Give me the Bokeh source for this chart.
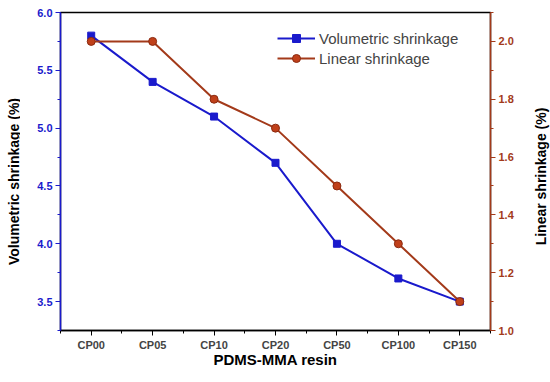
from bokeh.plotting import figure
from bokeh.layouts import row
from bokeh.models import Range1d, LinearAxis, FixedTicker, Legend, LegendItem, Label
from bokeh.embed import file_html
from bokeh.resources import INLINE

categories = ["CP00", "CP05", "CP10", "CP20", "CP50", "CP100", "CP150"]
volumetric = [5.8, 5.4, 5.1, 4.7, 4.0, 3.7, 3.5]
linear = [2.0, 2.0, 1.8, 1.7, 1.5, 1.3, 1.1]
xs = list(range(len(categories)))

FONT = "Liberation Sans"
BLUE = "#1a1acc"
BROWN = "#a33a1a"
PI = 3.141592653589793
H = 382

p = figure(width=505, height=H, output_backend="svg", toolbar_location=None,
           x_range=Range1d(-0.5, 6.5), y_range=Range1d(3.25, 6.0),
           min_border_left=40, min_border_right=35, min_border_top=12, min_border_bottom=52)
p.extra_y_ranges = {"lin": Range1d(1.0, 2.1)}
p.grid.visible = False
p.outline_line_color = "black"
p.outline_line_width = 1.5

vl = p.line(xs, volumetric, line_color=BLUE, line_width=2)
vm = p.scatter(xs, volumetric, marker="square", size=7, fill_color=BLUE, line_color=BLUE)
ll = p.line(xs, linear, line_color=BROWN, line_width=2, y_range_name="lin")
lm = p.scatter(xs, linear, marker="circle", size=8, fill_color="#c0401a", line_color="#8a2a10",
               y_range_name="lin")

xa = p.xaxis[0]
xa.ticker = FixedTicker(ticks=xs, minor_ticks=[i - 0.5 for i in range(8)])
xa.major_label_overrides = {i: c for i, c in enumerate(categories)}
xa.axis_label = "PDMS-MMA resin"
xa.axis_label_text_font = FONT
xa.axis_label_text_font_style = "bold"
xa.axis_label_text_font_size = "15px"
xa.axis_label_text_color = "black"
xa.axis_label_standoff = -3
xa.axis_line_color = "black"
xa.axis_line_width = 1.5
xa.major_tick_line_color = "black"
xa.minor_tick_line_color = "black"

ya = p.yaxis[0]
lt = [3.5, 4.0, 4.5, 5.0, 5.5, 6.0]
ya.ticker = FixedTicker(ticks=lt, minor_ticks=[3.25 + 0.25 * i for i in range(12)])
ya.major_label_overrides = {v: f"{v:.1f}" for v in lt}
ya.axis_line_color = BLUE
ya.axis_line_width = 1.5
ya.major_tick_line_color = BLUE
ya.minor_tick_line_color = BLUE
ya.major_label_text_color = BLUE

ra = LinearAxis(y_range_name="lin")
rt = [1.0, 1.2, 1.4, 1.6, 1.8, 2.0]
ra.ticker = FixedTicker(ticks=rt, minor_ticks=[1.0 + 0.1 * i for i in range(12)])
ra.major_label_overrides = {v: f"{v:.1f}" for v in rt}
ra.axis_line_color = BROWN
ra.axis_line_width = 1.5
ra.major_tick_line_color = BROWN
ra.minor_tick_line_color = BROWN
ra.major_label_text_color = BROWN
p.add_layout(ra, "right")

for ax in [xa, ya, ra]:
    ax.major_label_text_font = FONT
    ax.major_label_text_font_style = "bold"
    ax.major_label_text_font_size = "11px"
    ax.major_tick_out = 5
    ax.major_tick_in = 0
    ax.minor_tick_out = 3
    ax.minor_tick_in = 0
    ax.major_label_standoff = 3

legend = Legend(items=[LegendItem(label="Volumetric shrinkage", renderers=[vl, vm]),
                       LegendItem(label="Linear shrinkage", renderers=[ll, lm])],
                location=(217, 262), border_line_color=None, background_fill_alpha=0,
                label_text_font=FONT, label_text_font_size="15px",
                glyph_width=38, spacing=0, padding=4, label_standoff=4)
p.add_layout(legend)


def title_strip(width, text, x, y):
    s = figure(width=width, height=H, output_backend="svg", toolbar_location=None,
               x_axis_type=None, y_axis_type=None, min_border=0,
               x_range=Range1d(0, 1), y_range=Range1d(0, 1))
    s.outline_line_color = None
    s.grid.visible = False
    s.add_layout(Label(x=x, y=y, x_units="screen", y_units="screen", text=text, angle=PI / 2,
                       text_font=FONT, text_font_style="bold", text_font_size="14px",
                       text_color="black", text_align="center", text_baseline="middle"))
    return s


# frames in a row are aligned with the main frame (y from its bottom at 330 px)
left_strip = title_strip(20, "Volumetric shrinkage (%)", 13, 330 - 181)
right_strip = title_strip(25, "Linear shrinkage (%)", 15, 330 - 176)

layout = row(left_strip, p, right_strip, spacing=0)
open("out.html", "w").write(file_html(layout, INLINE))
